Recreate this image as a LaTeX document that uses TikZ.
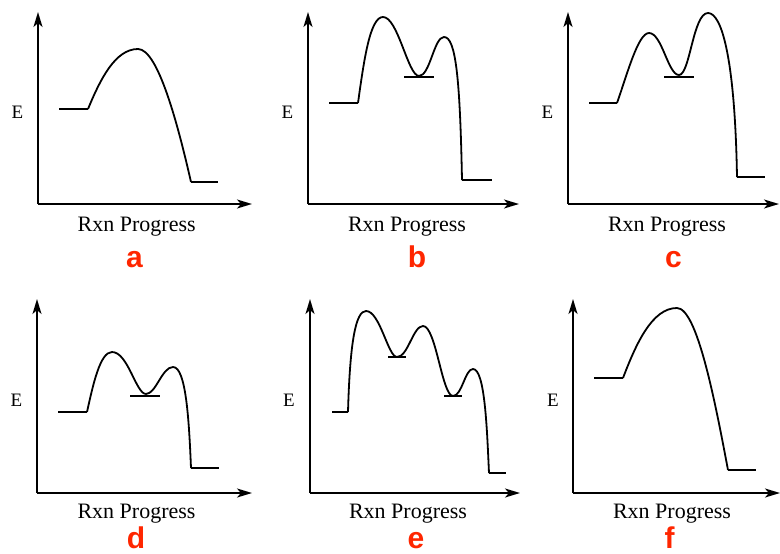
\documentclass[tikz,border=0pt]{standalone}
\usepackage{fontspec}
\setmainfont{Liberation Serif}
\newfontfamily\serfont{Liberation Serif}
\newfontfamily\lettfont{Liberation Sans}
\usetikzlibrary{arrows.meta}
\definecolor{lettred}{RGB}{255,38,0}
\tikzset{
  axis/.style={line width=1.9pt,-{Stealth[length=15pt,width=9pt,inset=4pt]}},
  curve/.style={line width=1.8pt,line join=round},
  lvl/.style={line width=1.9pt},
  elabel/.style={anchor=base,inner sep=0pt,font=\serfont\fontsize{19}{19}\selectfont},
  xlabel/.style={anchor=base,inner sep=0pt,font=\serfont\fontsize{22}{22}\selectfont},
  letter/.style={anchor=base,inner sep=0pt,text=lettred,font=\lettfont\bfseries\fontsize{30}{30}\selectfont},
}
\begin{document}
\begin{tikzpicture}[x=1pt,y=-1pt]
\useasboundingbox (0,0) rectangle (780,554);
% ---------- panel a ----------
\coordinate (oa) at (38,204);
\draw[axis] (oa) -- (38,12);
\draw[axis] (oa) -- (252,204);
\node[elabel] (Ea) at (17.5,118.5) {E};
\node[xlabel] (Xa) at (136.7,231.7) {Rxn Progress};
\node[letter] (La) at (134.5,267) {a};
\draw[lvl] (59,109) -- (88,109);
\draw[curve] (88,109) .. controls (100,80) and (115,49) .. (138,49)
  .. controls (158,49) and (178,125) .. (191,182);
\draw[lvl] (191,182) -- (218,182);
% ---------- panel b ----------
\coordinate (ob) at (308,204);
\draw[axis] (ob) -- (308,12);
\draw[axis] (ob) -- (519,204);
\node[elabel] (Eb) at (287.5,118.5) {E};
\node[xlabel] (Xb) at (407,231.7) {Rxn Progress};
\node[letter] (Lb) at (417,267) {b};
\draw[lvl] (329,103) -- (358,103);
\draw[curve] (358,103) .. controls (364,60) and (370,17) .. (383,17)
  .. controls (398,17) and (408,76) .. (419,76)
  .. controls (430,76) and (434,37) .. (444,37)
  .. controls (456,37) and (460,80) .. (462,180);
\draw[lvl] (404,77) -- (434,77);
\draw[lvl] (462,180) -- (492,180);
% ---------- panel c ----------
\coordinate (oc) at (568,204);
\draw[axis] (oc) -- (568,12);
\draw[axis] (oc) -- (779,204);
\node[elabel] (Ec) at (547.5,118.5) {E};
\node[xlabel] (Xc) at (667,231.7) {Rxn Progress};
\node[letter] (Lc) at (673.5,267) {c};
\draw[lvl] (589,103) -- (617,103);
\draw[curve] (617,103) .. controls (627,75) and (638,33) .. (649,33)
  .. controls (662,33) and (668,75) .. (679,75)
  .. controls (690,75) and (693,13) .. (708,13)
  .. controls (722,13) and (735,60) .. (737,177);
\draw[lvl] (664,77) -- (694,77);
\draw[lvl] (737,177) -- (765,177);
% ---------- panel d ----------
\coordinate (od) at (37,493);
\draw[axis] (od) -- (37,299);
\draw[axis] (od) -- (252,493);
\node[elabel] (Ed) at (16.5,406.7) {E};
\node[xlabel] (Xd) at (136.5,518) {Rxn Progress};
\node[letter] (Ld) at (136,548.5) {d};
\draw[lvl] (58,412) -- (87,412);
\draw[curve] (87,412) .. controls (93,385) and (100,352) .. (112,352)
  .. controls (128,352) and (136,394) .. (146,394)
  .. controls (156,394) and (162,367) .. (173,367)
  .. controls (186,367) and (189,420) .. (191,468);
\draw[lvl] (130,396) -- (160,396);
\draw[lvl] (191,468) -- (219,468);
% ---------- panel e ----------
\coordinate (oe) at (310,493);
\draw[axis] (oe) -- (310,299);
\draw[axis] (oe) -- (520,493);
\node[elabel] (Ee) at (289,406.7) {E};
\node[xlabel] (Xe) at (408,518) {Rxn Progress};
\node[letter] (Le) at (416,548.5) {e};
\draw[lvl] (332,412) -- (348,412);
\draw[curve] (348,412) .. controls (350,340) and (356,311) .. (366,311)
  .. controls (380,311) and (388,357) .. (397,357)
  .. controls (408,357) and (413,326) .. (423,326)
  .. controls (436,326) and (442,396) .. (453,396)
  .. controls (462,396) and (465,369) .. (473,369)
  .. controls (485,369) and (487,430) .. (489,473);
\draw[lvl] (388,357) -- (406,357);
\draw[lvl] (444,396) -- (462,396);
\draw[lvl] (489,473) -- (506,473);
% ---------- panel f ----------
\coordinate (of) at (573,493);
\draw[axis] (of) -- (573,299);
\draw[axis] (of) -- (780,493);
\node[elabel] (Ef) at (553,406.7) {E};
\node[xlabel] (Xf) at (672,518) {Rxn Progress};
\node[letter] (Lf) at (669.5,548.5) {f};
\draw[lvl] (594,378) -- (623,378);
\draw[curve] (623,378) .. controls (636,344) and (652,308) .. (677,308)
  .. controls (697,308) and (715,401) .. (728,470);
\draw[lvl] (728,470) -- (756,470);
\end{tikzpicture}
\end{document}
